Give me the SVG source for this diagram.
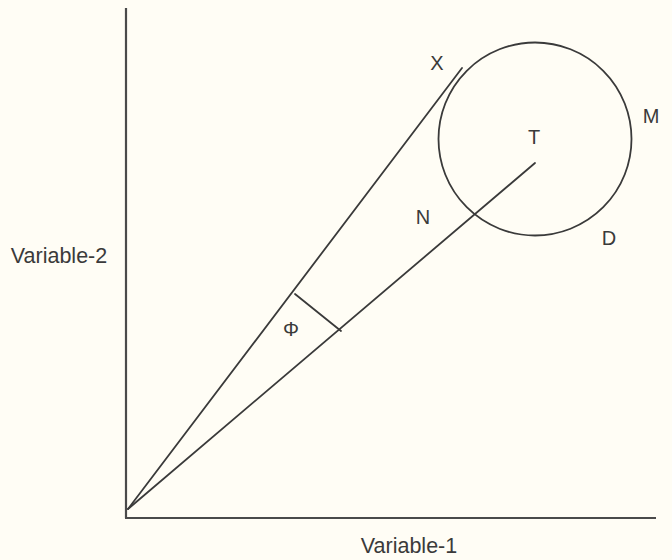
<svg xmlns="http://www.w3.org/2000/svg" width="672" height="560" viewBox="0 0 672 560">
<style>
.ln{stroke:#3a3a3a;stroke-width:1.8;fill:none;stroke-linecap:round}
.ax{stroke:#4a4a4a;stroke-width:2.2;fill:none}
.t{font-family:"Liberation Sans",Arial,sans-serif;font-size:20px;fill:#3a3a3a}
.big{font-size:21.5px}
</style>
<rect width="672" height="560" fill="#fffdf5"/>
<g id="axes">
<line class="ax" x1="126" y1="8" x2="126" y2="518"/>
<line class="ax" x1="125" y1="518" x2="656" y2="518"/>
</g>
<g id="connectors">
<line class="ln" x1="128" y1="509" x2="462" y2="68"/>
<line class="ln" x1="128" y1="509" x2="535" y2="163"/>
<line class="ln" x1="295" y1="294" x2="341" y2="331"/>
</g>
<g id="circle"><circle class="ln" cx="535" cy="139" r="96.5"/></g>
<g id="labels">
<text class="t" x="437" y="70" text-anchor="middle">X</text>
<text class="t" x="534" y="144" text-anchor="middle">T</text>
<text class="t" x="651" y="123" text-anchor="middle">M</text>
<text class="t" x="423" y="224" text-anchor="middle">N</text>
<text class="t" x="609" y="245" text-anchor="middle">D</text>
<text class="t" x="291" y="336" text-anchor="middle">Φ</text>
<text class="t big" x="59" y="263" text-anchor="middle">Variable-2</text>
<text class="t big" x="409" y="553" text-anchor="middle">Variable-1</text>
</g>
</svg>
